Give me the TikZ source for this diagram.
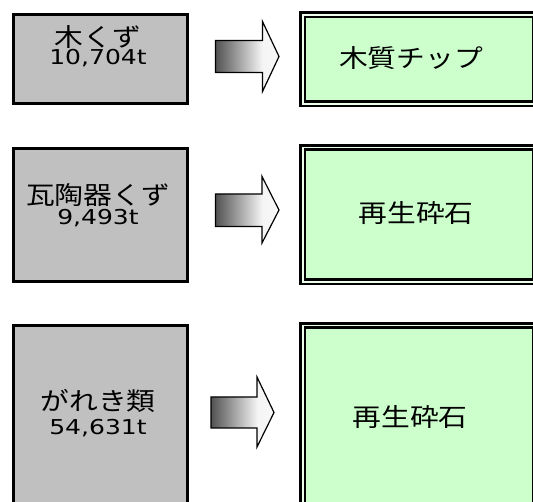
\documentclass[tikz,border=0pt]{standalone}
\usepackage{fontspec}
\usepackage{graphicx}
\newfontfamily\jpfont{Noto Sans CJK JP}
\newfontfamily\numfont{DejaVu Sans}
\newcommand\widejp[1]{{\jpfont\fontsize{25pt}{27pt}\selectfont\scalebox{1.15}[1]{#1}}}
\newcommand\widenum[1]{{\numfont\fontsize{20.5pt}{22pt}\selectfont\scalebox{1.22}[1]{#1}}}
\pgfdeclarehorizontalshading{arrsh}{100bp}{color(0bp)=(black!68); color(25bp)=(black!68); color(62bp)=(black!4); color(75bp)=(black!3); color(100bp)=(black!3)}
\definecolor{boxgray}{HTML}{C0C0C0}
\definecolor{boxgreen}{HTML}{CCFFCC}
\tikzset{
  src/.style={draw=black, line width=3pt, fill=boxgray, inner sep=0pt, anchor=north west, minimum width=174pt},
  dst/.style={draw=black, line width=2.6pt, double=boxgreen!40!white, double distance=1.8pt, fill=boxgreen, inner sep=0pt, anchor=north west, minimum width=233pt},
  lbl/.style={inner sep=0pt, anchor=base},
  blockarrow/.style={draw=black, line width=1.2pt, line join=miter, shading=arrsh}
}
\begin{document}
\begin{tikzpicture}[x=1pt,y=-1pt]
\useasboundingbox (0,0) rectangle (533,502);
% source boxes
\node[src, minimum height=89pt] (g1) at (11.5,13.5) {};
\node[src, minimum height=133pt] (g2) at (11.5,147.5) {};
\node[src, minimum height=180pt] (g3) at (11.5,324.5) {};
% destination boxes
\node[dst, minimum height=89pt] (d1) at (301.5,13.5) {};
\node[dst, minimum height=134.3pt] (d2) at (301.5,146.2) {};
\node[dst, minimum height=186pt] (d3) at (301.5,324.2) {};
% labels
\node[lbl] (g1a) at (98,46.5) {\widejp{木くず}};
\node[lbl] (g1b) at (98,65) {\widenum{10,704t}};
\node[lbl] (g2a) at (98,204.5) {\widejp{瓦陶器くず}};
\node[lbl] (g2b) at (98,224.5) {\widenum{9,493t}};
\node[lbl] (g3a) at (98,411) {\widejp{がれき類}};
\node[lbl] (g3b) at (98,435) {\widenum{54,631t}};
\node[lbl] (d1a) at (411,67.5) {\widejp{木質チップ}};
\node[lbl] (d2a) at (416,222.5) {\widejp{再生砕石}};
\node[lbl] (d3a) at (410,426.5) {\widejp{再生砕石}};
% block arrows
\draw[blockarrow] (215.5,40.5) -- (262.5,40.5) -- (262.5,21.5) -- (279,56.5) -- (262.5,91.5) -- (262.5,72.5) -- (215.5,72.5) -- cycle;
\draw[blockarrow] (215.5,194) -- (262,194) -- (262,176.5) -- (279,210) -- (262,243) -- (262,226.5) -- (215.5,226.5) -- cycle;
\draw[blockarrow] (211,397) -- (257,397) -- (257,377) -- (274,412.5) -- (257,447) -- (257,428) -- (211,428) -- cycle;
\end{tikzpicture}
\end{document}
